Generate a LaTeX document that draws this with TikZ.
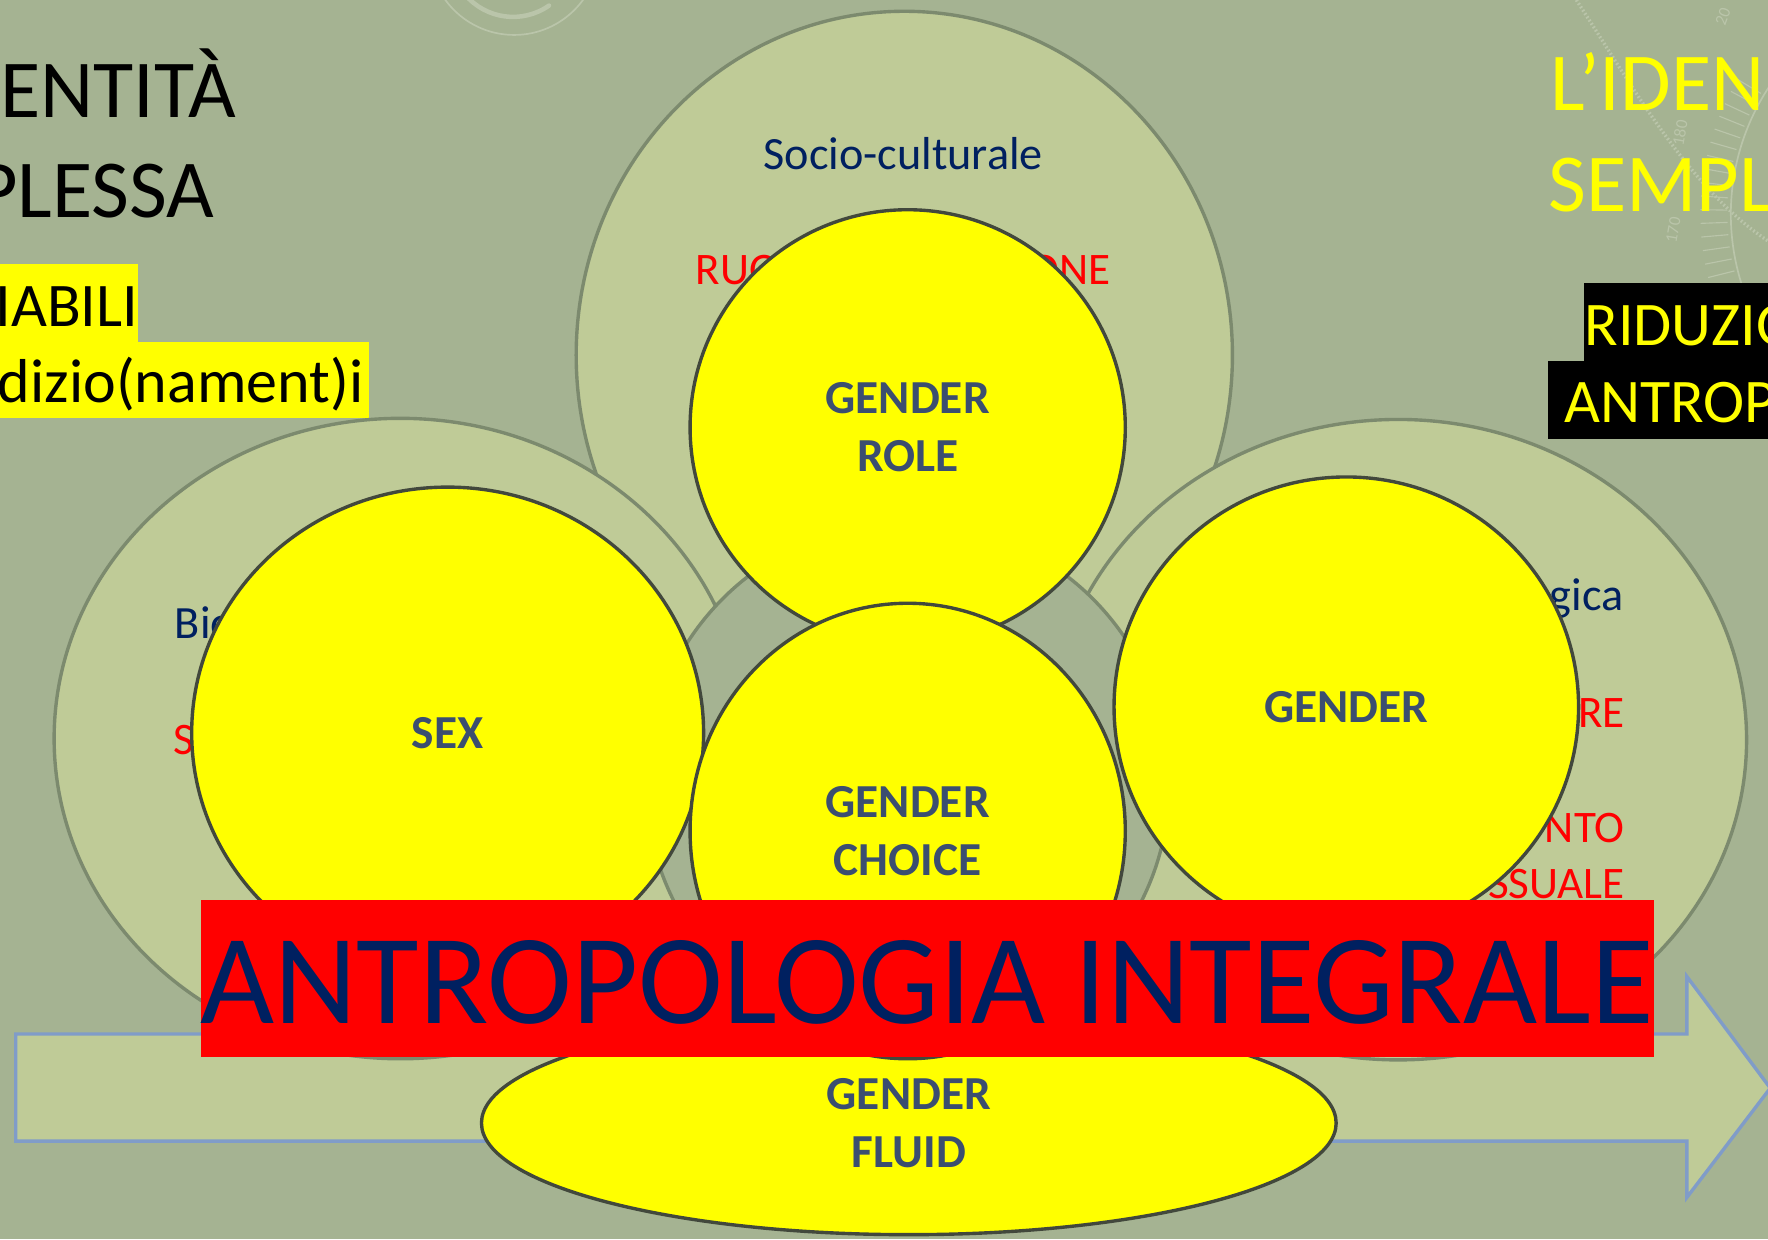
\documentclass[tikz,border=0pt]{standalone}
\usepackage{fontspec}
\setmainfont{Carlito}
\usepackage{tikz}
\usetikzlibrary{shapes.geometric}

\definecolor{sage}{RGB}{165,179,146}
\definecolor{palegreen}{RGB}{191,203,151}
\definecolor{rimgreen}{RGB}{124,138,110}
\definecolor{rimdark}{RGB}{66,72,60}
\definecolor{navy}{RGB}{0,32,96}
\definecolor{slate}{RGB}{59,78,112}
\definecolor{arrowblue}{RGB}{128,156,200}
\definecolor{ghost}{RGB}{186,197,170}
\definecolor{sun}{RGB}{255,255,0}

\begin{document}
\begin{tikzpicture}[
    x=1pt, y=-1pt,
    outer/.style={ellipse, draw=rimgreen, line width=3pt, fill=palegreen, inner sep=0pt},
    core/.style={ellipse, draw=rimdark, line width=3pt, fill=sun, inner sep=0pt, text=slate, align=center, font=\fontsize{42}{51}\selectfont\bfseries},
    aspect/.style={inner sep=0pt, text=navy, font=\fontsize{41}{49}\selectfont},
    trait/.style={inner sep=0pt, text=red, font=\fontsize{40}{48}\selectfont},
    headline/.style={inner sep=0pt, font=\fontsize{73}{88}\selectfont},
    marker/.style={inner sep=0pt, font=\fontsize{55}{66}\selectfont},
    ghostline/.style={draw=ghost, line width=1.5pt},
    ghosttext/.style={inner sep=0pt, text=ghost, font=\fontsize{15}{15}\selectfont}
]

\useasboundingbox (0,0) rectangle (1568,1099);
\clip (0,0) rectangle (1568,1099);
\fill[sage] (0,0) rectangle (1568,1099);

% faint marks of the slide background
\draw[ghostline] (456,-44.5) circle (75.5);
\draw[ghostline, line width=4pt, line cap=round] (455,-40.6) ++(140:55.6) arc[start angle=140, end angle=55, radius=55.6];
\draw[ghostline] (1740,190) ++(225:205) arc[start angle=225, end angle=140, radius=205];
\draw[ghostline, dotted, line width=3pt] (1398,0) .. controls (1450,80) and (1500,170) .. (1570,215);
\foreach \a in {166,169,...,211}
    \draw[ghostline, line width=1pt] (1740,190) ++(\a:208) -- ++(\a:24);
\node[ghosttext, rotate=70] (deg20) at (1528,15) {20};
\node[ghosttext, rotate=80] (deg180) at (1490,118) {180};
\node[ghosttext, rotate=80] (deg170) at (1484,204) {170};

% left headings
\fill[sun] (0,234) rectangle (122,303);
\fill[sun] (0,303) rectangle (327,371);
\node[headline, anchor=base west] (entita) at (0,104) {ENTITÀ};
\node[headline, anchor=base west] (plessa) at (-22,193) {PLESSA};
\node[marker, anchor=base west] (iabili) at (-4,290) {IABILI};
\node[marker, anchor=base west] (dizio) at (-2,357) {dizio(nament)i};

% right headings
\fill[black] (1405,251) rectangle (1568,320);
\fill[black] (1373,320) rectangle (1568,389);
\node[headline, text=sun, anchor=base west] (iden) at (1375,98) {L’IDEN};
\node[headline, text=sun, anchor=base west] (sempl) at (1373,188) {SEMPL};
\node[marker, text=sun, anchor=base west] (riduz) at (1405,306) {RIDUZIO};
\node[marker, text=sun, anchor=base west] (antrop) at (1387,375) {ANTROP};

% arrow
\draw[arrowblue, line width=3pt, fill=palegreen, line join=miter]
    (14,917) -- (1496,917) -- (1496,866) -- (1570,965) -- (1496,1062) -- (1496,1012) -- (14,1012) -- cycle;

% outer rings
\node[outer, minimum width=582pt, minimum height=610pt] (social) at (802,315) {};
\node[aspect, anchor=base] (socio) at (801,150) {Socio-culturale};
\node[trait, anchor=base west] (ruo) at (617,252) {RUO};
\node[trait, anchor=base east] (one) at (985,252) {ONE};

\node[outer, minimum width=614pt, minimum height=568pt] (biology) at (355,655) {};
\node[aspect, anchor=base west] (bio) at (155,566) {Bio};
\node[trait, anchor=base west] (bs) at (154,669) {S};

\node[outer, minimum width=618pt, minimum height=568pt] (psyche) at (1240,656) {};
\node[aspect, anchor=base east] (gica) at (1440,541) {gica};
\node[trait, anchor=base east] (re) at (1441,645) {RE};
\node[trait, anchor=base east] (nto) at (1441,747) {NTO};
\node[trait, anchor=base east] (ssuale) at (1441,797) {SSUALE};

\node[outer, fill=sage, minimum size=464pt] (hub) at (805,695) {};

% yellow cores
\node[core, minimum width=758pt, minimum height=198pt] (fluid) at (806,996) {GENDER\\FLUID};
\node[core, minimum size=386pt] (role) at (805,379) {GENDER\\ROLE};
\node[core, minimum width=454pt, minimum height=436pt] (sex) at (397,650) {SEX};
\node[core, minimum width=412pt, minimum height=408pt] (gender) at (1194,627) {GENDER};
\node[core, minimum width=386pt, minimum height=404pt] (choice) at (805,737) {GENDER\\CHOICE};

% banner
\node[fill=red, inner sep=0pt, minimum width=1289pt, minimum height=139pt] (banner) at (822.5,867.5) {};
\node[inner sep=0pt, text=navy, font=\fontsize{113.5}{120}\selectfont, anchor=base] (bannertxt) at (822,908) {ANTROPOLOGIA INTEGRALE};

\end{tikzpicture}
\end{document}
